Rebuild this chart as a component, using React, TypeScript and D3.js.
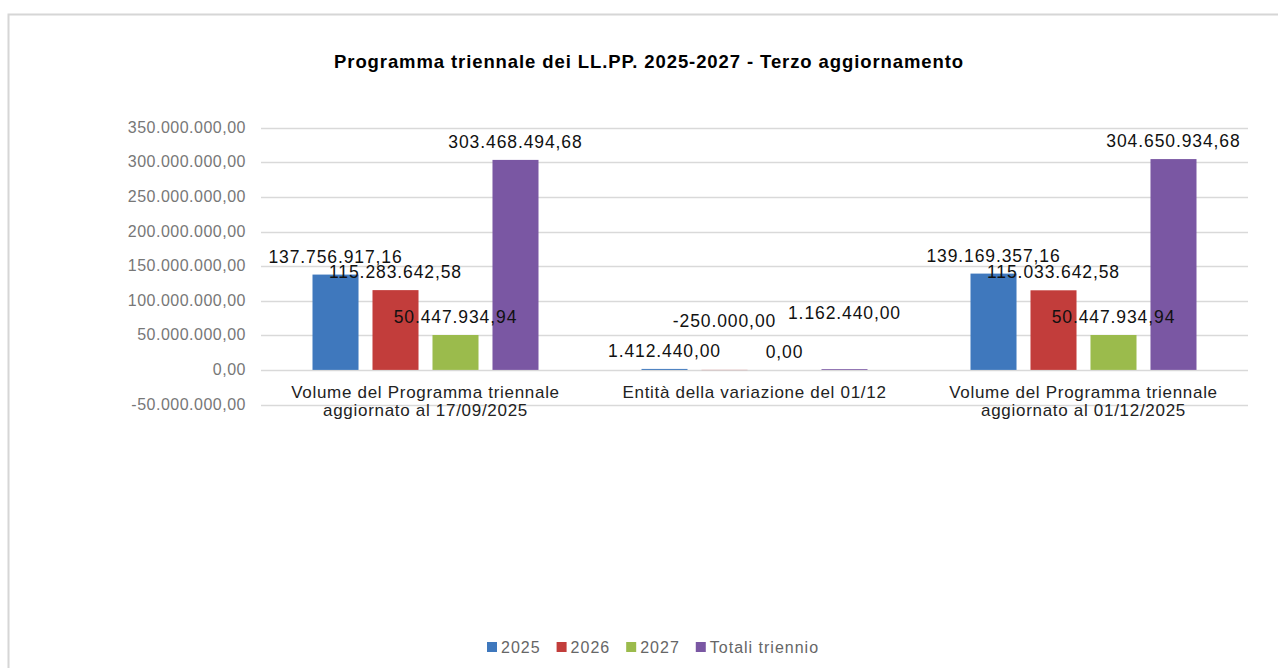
import React, { useEffect, useRef } from "react";
import * as d3 from "d3";

const categories = [
  ["Volume del Programma triennale", "aggiornato al 17/09/2025"],
  ["Entità della variazione del 01/12"],
  ["Volume del Programma triennale", "aggiornato al 01/12/2025"],
];
const seriesNames = ["2025", "2026", "2027", "Totali triennio"];
const values2025 = [137756917.16, 1412440.0, 139169357.16];
const values2026 = [115283642.58, -250000.0, 115033642.58];
const values2027 = [50447934.94, 0.0, 50447934.94];
const valuesTotal = [303468494.68, 1162440.0, 304650934.68];
const yTicks = [-50000000, 0, 50000000, 100000000, 150000000, 200000000, 250000000, 300000000, 350000000];
const title = "Programma triennale dei LL.PP. 2025-2027 - Terzo aggiornamento";

const colors = ["#3f78bd", "#c23d3b", "#9bbb4c", "#7a57a3"];
// manual label shifts (layout only) keyed "series-category"
const labelShift: Record<string, number> = { "1-1": -31, "3-1": -38 };

const fmt = (v: number) => {
  const s = d3.format(",.2f")(Math.abs(v));
  const out = s.replace(/,/g, "#").replace(".", ",").replace(/#/g, ".");
  return (v < 0 ? "-" : "") + out;
};

export default function App() {
  const ref = useRef<SVGSVGElement>(null);
  useEffect(() => {
    const svg = d3.select(ref.current);
    svg.selectAll("*").remove();
    const W = 1278, H = 668;
    const font = "'Liberation Sans', Arial, sans-serif";

    svg.append("rect").attr("x", 0).attr("y", 0).attr("width", W).attr("height", H).attr("fill", "#fff");
    // frame
    svg.append("path").attr("d", `M8.5,${H} L8.5,14.5 L${W},14.5`).attr("fill", "none").attr("stroke", "#d6d6d6").attr("stroke-width", 2);

    const left = 261, right = 1248;
    const y = d3.scaleLinear().domain([-50000000, 350000000]).range([404.5, 127.7]);
    const x0 = d3.scaleBand<number>().domain(categories.map((_, i) => i)).range([left, right]).padding(0);
    const data = [values2025, values2026, values2027, valuesTotal];

    svg.append("text").attr("x", 649).attr("y", 68).attr("text-anchor", "middle")
      .attr("font-family", font).attr("font-weight", "bold").attr("font-size", 18.5).attr("letter-spacing", 0.9)
      .attr("fill", "#000").text(title);

    // grid
    svg.append("g").selectAll("line").data(yTicks).join("line")
      .attr("x1", left).attr("x2", right).attr("y1", (d) => Math.round(y(d)) + 0.5).attr("y2", (d) => Math.round(y(d)) + 0.5)
      .attr("stroke", "#d9d9d9").attr("stroke-width", 1.5);
    svg.append("g").selectAll("text").data(yTicks).join("text")
      .attr("x", 246).attr("y", (d) => y(d) + 5).attr("text-anchor", "end")
      .attr("font-family", font).attr("font-size", 16).attr("letter-spacing", 0.5).attr("fill", "#777").text((d) => fmt(d));

    // bars
    const bw = x0.bandwidth();
    const half = 113;
    const inner = (c: number) =>
      d3.scaleBand<number>().domain(seriesNames.map((_, i) => i)).range([c - half, c + half]).paddingInner(0.233).paddingOuter(0);
    categories.forEach((_, ci) => {
      const c = (x0(ci) as number) + bw / 2;
      const x1 = inner(c);
      seriesNames.forEach((_, si) => {
        const v = data[si][ci];
        svg.append("rect").attr("x", x1(si) as number).attr("width", x1.bandwidth())
          .attr("y", y(Math.max(0, v))).attr("height", Math.abs(y(v) - y(0)))
          .attr("fill", colors[si]);
      });
    });
    // labels
    categories.forEach((_, ci) => {
      const c = (x0(ci) as number) + bw / 2;
      const x1 = inner(c);
      seriesNames.forEach((_, si) => {
        const v = data[si][ci];
        const shift = labelShift[`${si}-${ci}`] || 0;
        svg.append("text").attr("x", (x1(si) as number) + x1.bandwidth() / 2).attr("y", y(Math.max(0, v)) - 12 + shift)
          .attr("text-anchor", "middle").attr("font-family", font).attr("font-size", 17.5).attr("letter-spacing", 0.9)
          .attr("fill", "#111").text(fmt(v));
      });
      // category label
      const lines = categories[ci];
      lines.forEach((ln, li) => {
        svg.append("text").attr("x", c).attr("y", 398 + li * 18).attr("text-anchor", "middle")
          .attr("font-family", font).attr("font-size", 17).attr("letter-spacing", 0.7).attr("fill", "#222").text(ln);
      });
    });

    // legend
    const lg = svg.append("g");
    let cx = 487;
    seriesNames.forEach((n, i) => {
      lg.append("rect").attr("x", cx).attr("y", 642).attr("width", 10).attr("height", 10).attr("fill", colors[i]);
      const t = lg.append("text").attr("x", cx + 14).attr("y", 653).attr("font-family", font).attr("font-size", 16)
        .attr("letter-spacing", 1).attr("fill", "#666").text(n);
      const w = (t.node() as SVGTextElement).getComputedTextLength();
      cx += 14 + w + 16;
    });
  }, []);
  return (
    <svg ref={ref} width={1278} height={668} style={{ position: "absolute", left: 0, top: 0, display: "block" }} />
  );
}
